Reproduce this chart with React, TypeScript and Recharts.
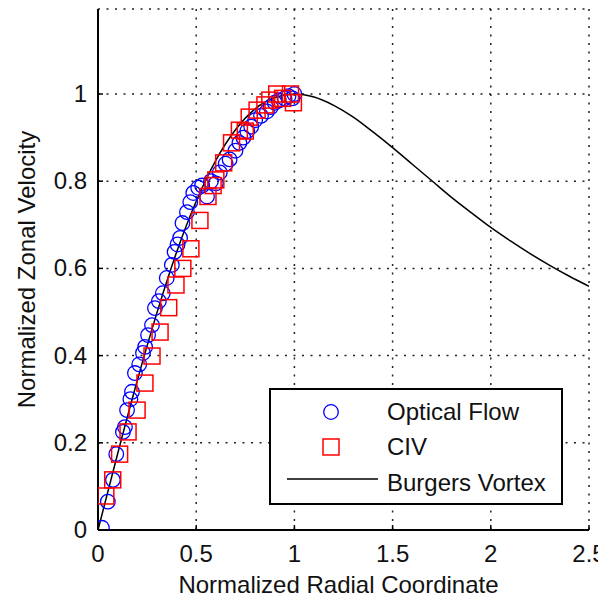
import React from 'react';
import { ComposedChart, Scatter, Line, XAxis, YAxis, CartesianGrid, Legend } from 'recharts';

// ---- data ----
const xTicks = [0, 0.5, 1, 1.5, 2, 2.5];
const yTicks = [0, 0.2, 0.4, 0.6, 0.8, 1];

const seriesNames = ['Optical Flow', 'CIV', 'Burgers Vortex'];

const burgersRadius = [0, 0.1, 0.2, 0.3, 0.4, 0.5, 0.6, 0.7, 0.8, 0.9, 1.0, 1.1, 1.2, 1.3, 1.4, 1.5, 1.6, 1.7, 1.8, 1.9, 2.0, 2.1, 2.2, 2.3, 2.4, 2.5];
const burgersVelocity = [0, 0.175, 0.343, 0.498, 0.637, 0.754, 0.848, 0.918, 0.966, 0.992, 1.0, 0.993, 0.974, 0.947, 0.913, 0.877, 0.839, 0.801, 0.763, 0.728, 0.694, 0.663, 0.634, 0.607, 0.582, 0.559];

const opticalRadius = [0.02, 0.05, 0.076, 0.093, 0.127, 0.137, 0.148, 0.165, 0.173, 0.188, 0.21, 0.229, 0.24, 0.255, 0.275, 0.29, 0.31, 0.33, 0.35, 0.376, 0.39, 0.405, 0.418, 0.43, 0.453, 0.47, 0.485, 0.51, 0.53, 0.555, 0.575, 0.6, 0.62, 0.65, 0.67, 0.7, 0.72, 0.74, 0.76, 0.78, 0.8, 0.83, 0.86, 0.88, 0.9, 0.92, 0.95, 0.97, 0.99, 1.0];
const opticalVelocity = [0.005, 0.065, 0.115, 0.174, 0.225, 0.236, 0.275, 0.3, 0.317, 0.36, 0.38, 0.406, 0.42, 0.447, 0.47, 0.509, 0.525, 0.543, 0.578, 0.608, 0.638, 0.655, 0.67, 0.704, 0.729, 0.752, 0.773, 0.785, 0.79, 0.765, 0.8, 0.795, 0.82, 0.84, 0.85, 0.87, 0.888, 0.9, 0.915, 0.925, 0.94, 0.95, 0.96, 0.97, 0.98, 0.985, 0.99, 0.995, 0.99, 1.0];

const civRadius = [0.04, 0.075, 0.11, 0.153, 0.199, 0.239, 0.275, 0.316, 0.36, 0.397, 0.432, 0.473, 0.519, 0.56, 0.586, 0.6, 0.64, 0.68, 0.72, 0.75, 0.77, 0.81, 0.85, 0.875, 0.91, 0.94, 0.98, 0.995];
const civVelocity = [0.078, 0.115, 0.174, 0.225, 0.275, 0.337, 0.399, 0.454, 0.51, 0.562, 0.6, 0.645, 0.71, 0.765, 0.79, 0.803, 0.842, 0.888, 0.917, 0.915, 0.947, 0.963, 0.975, 0.986, 1.0, 0.99, 1.0, 0.98];

const burgersData = burgersRadius.map((x, i) => ({ x, y: burgersVelocity[i] }));
const opticalData = opticalRadius.map((x, i) => ({ x, y: opticalVelocity[i] }));
const civData = civRadius.map((x, i) => ({ x, y: civVelocity[i] }));

// ---- styles ----
const FONT = "'Liberation Sans', Arial, Helvetica, sans-serif";
const TEXT = '#111';
const BLUE = '#0000ff';
const RED = '#ff0000';
const AXIS = { stroke: '#000', strokeWidth: 2 };

const BottomTick = (p: any) => (
  <g>
    <line x1={p.x} y1={p.y} x2={p.x} y2={p.y - 5} stroke="#000" strokeWidth={1.5} />
    <text x={p.x} y={p.y + 32} textAnchor="middle" fontSize={24} fontFamily={FONT} fill={TEXT}>
      {String(p.payload.value)}
    </text>
  </g>
);
const TopTick = (p: any) => <line x1={p.x} y1={p.y} x2={p.x} y2={p.y + 5} stroke="#000" strokeWidth={1.5} />;
const LeftTick = (p: any) => (
  <g>
    <line x1={p.x} y1={p.y} x2={p.x + 5} y2={p.y} stroke="#000" strokeWidth={1.5} />
    <text x={p.x - 11} y={p.y + 8} textAnchor="end" fontSize={24} fontFamily={FONT} fill={TEXT}>
      {String(p.payload.value)}
    </text>
  </g>
);
const RightTick = (p: any) => <line x1={p.x} y1={p.y} x2={p.x - 5} y2={p.y} stroke="#000" strokeWidth={1.5} />;

const XTitle = (p: any) => {
  const vb = p.viewBox || { x: 90, y: 522, width: 491, height: 74 };
  return (
    <text x={vb.x + vb.width / 2 - 5} y={vb.y + 63} textAnchor="middle" fontSize={24} fontFamily={FONT} fill={TEXT}>
      Normalized Radial Coordinate
    </text>
  );
};
const YTitle = (p: any) => {
  const vb = p.viewBox || { x: 0, y: 1, width: 90, height: 521 };
  const cx = vb.x + 27;
  const cy = vb.y + vb.height / 2;
  return (
    <text x={cx} y={cy} transform={`rotate(-90 ${cx} ${cy})`} textAnchor="middle" fontSize={24} fontFamily={FONT} fill={TEXT}>
      Normalized Zonal Velocity
    </text>
  );
};

const CircleMark = (p: any) => <circle cx={p.cx} cy={p.cy} r={7.3} fill="none" stroke={BLUE} strokeWidth={1.3} />;
const SquareMark = (p: any) => <rect x={p.cx - 8} y={p.cy - 8} width={16} height={16} fill="none" stroke={RED} strokeWidth={1.5} />;

const LegendBox = () => (
  <svg width={295} height={117} style={{ display: 'block' }}>
    <rect x={1} y={1} width={292} height={115} fill="#fff" stroke="#000" strokeWidth={2} />
    <circle cx={62} cy={24} r={7.3} fill="none" stroke={BLUE} strokeWidth={1.3} />
    <rect x={54} y={51} width={16} height={16} fill="none" stroke={RED} strokeWidth={1.5} />
    <line x1={18} y1={91} x2={109} y2={91} stroke="#000" strokeWidth={1.5} />
    {seriesNames.map((n, i) => (
      <text key={n} x={118} y={[32, 67, 103][i]} fontSize={24} fontFamily={FONT} fill={TEXT}>
        {n}
      </text>
    ))}
  </svg>
);

export default function App() {
  return (
    <div style={{ width: 598, height: 596, marginBottom: -8 }}>
      <ComposedChart width={598} height={596} margin={{ top: 1, right: 17, bottom: 0, left: 0 }}>
        <CartesianGrid stroke="#222" strokeWidth={1.5} strokeDasharray="2 6.5" />
        <XAxis
          dataKey="x"
          type="number"
          domain={[0, 2.5]}
          ticks={xTicks}
          interval={0}
          tickSize={0}
          tickMargin={0}
          height={74}
          tick={(p: any) => <BottomTick {...p} />}
          tickLine={false}
          axisLine={AXIS}
          allowDataOverflow
          label={{ content: (p: any) => <XTitle {...p} /> }}
        />
        <XAxis
          xAxisId="top"
          orientation="top"
          dataKey="x"
          type="number"
          domain={[0, 2.5]}
          ticks={xTicks}
          interval={0}
          tickSize={0}
          tickMargin={0}
          height={0}
          tick={(p: any) => <TopTick {...p} />}
          tickLine={false}
          axisLine={AXIS}
          allowDataOverflow
        />
        <YAxis
          type="number"
          domain={[0, 1.195]}
          ticks={yTicks}
          interval={0}
          tickSize={0}
          tickMargin={0}
          width={90}
          tick={(p: any) => <LeftTick {...p} />}
          tickLine={false}
          axisLine={AXIS}
          allowDataOverflow
          label={{ content: (p: any) => <YTitle {...p} /> }}
        />
        <YAxis
          yAxisId="right"
          orientation="right"
          type="number"
          domain={[0, 1.195]}
          ticks={yTicks}
          interval={0}
          tickSize={0}
          tickMargin={0}
          width={0}
          tick={(p: any) => <RightTick {...p} />}
          tickLine={false}
          axisLine={AXIS}
          allowDataOverflow
        />
        <Scatter name={seriesNames[0]} data={opticalData} dataKey="y" shape={(p: any) => <CircleMark {...p} />} isAnimationActive={false} />
        <Scatter name={seriesNames[1]} data={civData} dataKey="y" shape={(p: any) => <SquareMark {...p} />} isAnimationActive={false} />
        <Line name={seriesNames[2]} data={burgersData} dataKey="y" type="monotone" stroke="#000" strokeWidth={1.5} dot={false} activeDot={false} isAnimationActive={false} />
        <Legend
          layout="horizontal"
          verticalAlign="middle"
          align="center"
          wrapperStyle={{ left: 261, top: 380, width: 295, height: 117 }}
          content={() => <LegendBox />}
        />
      </ComposedChart>
    </div>
  );
}
